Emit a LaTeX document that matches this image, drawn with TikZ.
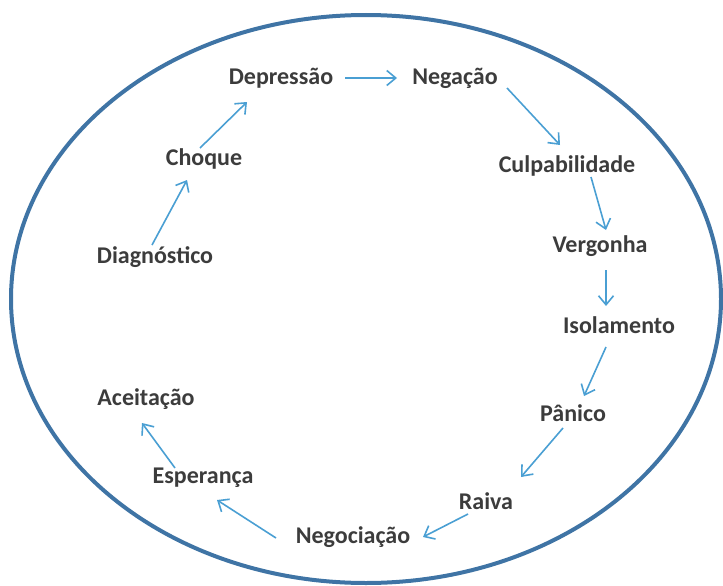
\documentclass[tikz,border=0pt]{standalone}
\usepackage{fontspec}
\setmainfont{Carlito}
\usetikzlibrary{arrows.meta}
\definecolor{txt}{HTML}{3C3C3C}
\definecolor{arr}{HTML}{4A9FD3}
\definecolor{ell}{HTML}{3F74A5}
\begin{document}
\begin{tikzpicture}[x=1pt,y=-1pt,
  lbl/.style={font=\fontsize{24}{28}\selectfont\bfseries, text=txt, inner sep=0pt},
  flow/.style={draw=arr, line width=1.6pt, -{Straight Barb[length=9pt,width=15pt,line width=1.6pt]}}]
\useasboundingbox (0,0) rectangle (723,586);
\draw[ell, line width=4pt] (366,299) ellipse [x radius=355, y radius=284];
\node[lbl] (dep) at (281,78) {Depressão};
\node[lbl] (neg) at (455,78) {Negação};
\node[lbl] (cho) at (204,159) {Choque};
\node[lbl] (cul) at (567,166) {Culpabilidade};
\node[lbl] (dia) at (155,257) {Diagnóstico};
\node[lbl] (ver) at (600,246) {Vergonha};
\node[lbl] (iso) at (619,325) {Isolamento};
\node[lbl] (ace) at (146,399) {Aceitação};
\node[lbl] (pan) at (573,413) {Pânico};
\node[lbl] (esp) at (203,478) {Esperança};
\node[lbl] (rai) at (486,501) {Raiva};
\node[lbl] (ngc) at (353,537) {Negociação};
\draw[flow] ([shift={(64,0)}]dep.center) -- ([shift={(-58,0)}]neg.center);
\draw[flow] ([shift={(52,10)}]neg.center) -- ([shift={(-7,-21)}]cul.center);
\draw[flow] ([shift={(24,11)}]cul.center) -- ([shift={(6,-16)}]ver.center);
\draw[flow] ([shift={(6,24)}]ver.center) -- ([shift={(-13,-19)}]iso.center);
\draw[flow] ([shift={(-13,22)}]iso.center) -- ([shift={(11,-17)}]pan.center);
\draw[flow] ([shift={(-10,15)}]pan.center) -- ([shift={(35,-24)}]rai.center);
\draw[flow] ([shift={(-18,13)}]rai.center) -- ([shift={(70,0)}]ngc.center);
\draw[flow] ([shift={(-77,1)}]ngc.center) -- ([shift={(14,22)}]esp.center);
\draw[flow] ([shift={(-28,-10)}]esp.center) -- ([shift={(-4,24)}]ace.center);
\draw[flow] ([shift={(-3,-12)}]dia.center) -- ([shift={(-17,21)}]cho.center);
\draw[flow] ([shift={(-4,-11)}]cho.center) -- ([shift={(-34,24)}]dep.center);
\end{tikzpicture}
\end{document}
